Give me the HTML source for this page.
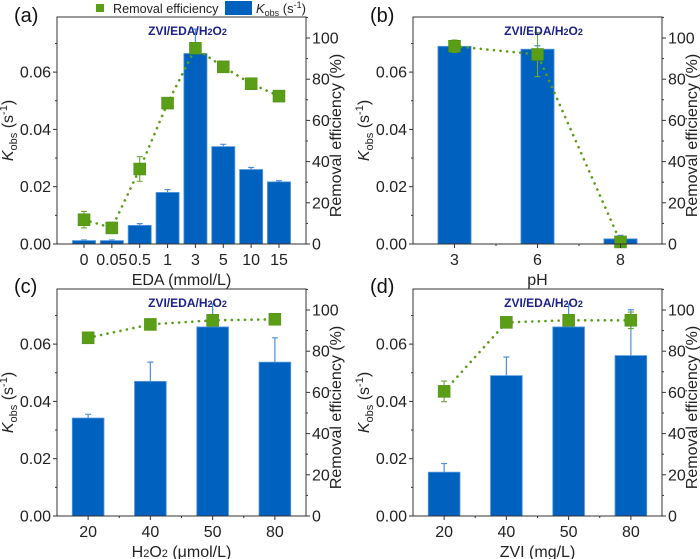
<!DOCTYPE html>
<html><head><meta charset="utf-8"><style>
body{margin:0;background:#fff;}
svg{display:block;font-family:"Liberation Sans",Arial,sans-serif;}
</style></head><body>
<svg id="fig" width="700" height="559" viewBox="0 0 700 559"></svg>
<script>
const catsA=["0","0.05","0.5","1","3","5","10","15"];
const kA=[0.0012,0.0012,0.0065,0.018,0.0665,0.034,0.026,0.0217];
const kErrA=[0.0002,0.0002,0.0006,0.001,0.0085,0.0008,0.0007,0.0004];
const reA=[11.8,7.8,36.4,68.4,95,86,77.8,71.8];
const reErrA=[4,1,6,1,1,0.5,0.5,0.5];
const catsB=["3","6","8"];
const kB=[0.069,0.068,0.0018];
const kErrB=[0.0015,0.0012,0.0012];
const reB=[96,92,1];
const reErrB=[3,10.7,2];
const catsC=["20","40","50","80"];
const kC=[0.0342,0.047,0.066,0.0537];
const kErrC=[0.0013,0.0067,0.008,0.0085];
const reC=[86.5,93,95,95.5];
const reErrC=[0.5,1.5,0.5,0.5];
const catsD=["20","40","50","80"];
const kD=[0.0153,0.049,0.066,0.056];
const kErrD=[0.003,0.0065,0.008,0.016];
const reD=[60.5,94,95,95];
const reErrD=[5,0.5,0.5,4];
const leftTicks=[0,0.02,0.04,0.06];
const rightTicks=[0,20,40,60,80,100];

const NS="http://www.w3.org/2000/svg";
const svg=document.getElementById('fig');
const BLUE="#0061bf",GREEN="#5a9e17";
function el(tag,attrs,parent,text){const e=document.createElementNS(NS,tag);for(const k in attrs)e.setAttribute(k,attrs[k]);if(text!==undefined)e.textContent=text;(parent||svg).appendChild(e);return e;}

function panel(o){
  const g=el('g',{});
  
  
  const x0=o.x0,x1=o.x1,yz=o.yz,yt=o.yz-227;
  const yL=v=>yz-v*2865;
  const yR=v=>yz-v*2.06;
  const n=o.cats.length;
  const sp=(x1-x0)/(n-1+2*o.pad);
  const xc=i=>x0+sp*(o.pad+i);
  const bw=sp*o.bw;
  o.k.forEach((v,i)=>{
    const r=el('rect',{x:xc(i)-bw/2,y:yL(v),width:bw,height:yz-yL(v),fill:BLUE,stroke:"#5b9be0","stroke-width":0.8},g);
    
    
    const ye=Math.max(yL(v+o.kErr[i]),yt);
    const e=el('path',{d:`M${xc(i)},${yL(v)}V${ye}M${xc(i)-3},${ye}H${xc(i)+3}`,stroke:"#4a90e2","stroke-width":1.2,fill:"none"},g);
    
    
  });
  let d=o.re.map((v,i)=>(i?'L':'M')+xc(i)+','+yR(v)).join('');
  const ln=el('path',{d:d,stroke:GREEN,"stroke-width":2.6,fill:"none","stroke-dasharray":"0.1 6.5","stroke-linecap":"round"},g);
  
  
  o.re.forEach((v,i)=>{
    const t=yR(v+o.reErr[i]),b=yR(v-o.reErr[i]);
    const e=el('path',{d:`M${xc(i)},${t}V${b}M${xc(i)-3},${t}H${xc(i)+3}M${xc(i)-3},${b}H${xc(i)+3}`,stroke:"#6aa83a","stroke-width":1.1,fill:"none"},g);
    
    
    const m=el('rect',{x:xc(i)-6,y:yR(v)-6,width:12,height:12,fill:GREEN,stroke:"#4d8a12","stroke-width":0.5},g);
    
    
  });
  const fr=el('rect',{x:x0,y:yt,width:x1-x0,height:yz-yt,fill:"none",stroke:"#333","stroke-width":1},g);
  
  
  leftTicks.forEach(v=>{
    el('line',{x1:x0-4,x2:x0,y1:yL(v),y2:yL(v),stroke:"#333"},g);
    const t=el('text',{x:x0-6,y:yL(v)+5.5,"text-anchor":"end","font-size":16,fill:"#222"},g,v.toFixed(2));
    
    
  });
  [0.01,0.03,0.05,0.07].forEach(v=>el('line',{x1:x0-2,x2:x0,y1:yL(v),y2:yL(v),stroke:"#333"},g));
  rightTicks.forEach(v=>{
    el('line',{x1:x1,x2:x1+4,y1:yR(v),y2:yR(v),stroke:"#333"},g);
    const t=el('text',{x:x1+6,y:yR(v)+5.5,"font-size":16,fill:"#222"},g,String(v));
    
    
  });
  [10,30,50,70,90,110].forEach(v=>{if(yR(v)>yt)el('line',{x1:x1,x2:x1+2,y1:yR(v),y2:yR(v),stroke:"#333"},g)});
  o.cats.forEach((c,i)=>{
    el('line',{x1:xc(i),x2:xc(i),y1:yz,y2:yz+4,stroke:"#333"},g);
    if(o.minor&&i<n-1)el('line',{x1:xc(i)+sp/2,x2:xc(i)+sp/2,y1:yz,y2:yz+2,stroke:"#333"},g);
    const t=el('text',{x:xc(i),y:yz+21,"text-anchor":"middle","font-size":16,fill:"#222"},g,c);
    
    
  });
  const xt=el('text',{x:(x0+x1)/2,y:yz+41,"text-anchor":"middle","font-size":16,fill:"#222"},g);
  xt.innerHTML=o.xtitle;
  
  
  const lt=el('text',{transform:`translate(${x0-44},${(yt+yz)/2}) rotate(-90)`,"text-anchor":"middle","font-size":16,fill:"#222"},g);
  lt.innerHTML='<tspan font-style="italic">K</tspan><tspan font-size="11" dy="4">obs</tspan><tspan dy="-4"> (s</tspan><tspan font-size="11" dy="-6">-1</tspan><tspan dy="6">)</tspan>';
  
  
  const rt=el('text',{transform:`translate(${x1+35},${(yt+yz)/2+5}) rotate(-90)`,"text-anchor":"middle","font-size":16,fill:"#222"},g,'Removal efficiency (%)');
  
  
  const it=el('text',{x:(x0+x1)/2+6,y:yt+18,"text-anchor":"middle","font-size":12,"font-weight":"bold",fill:"#1b1f8a"},g);
  it.innerHTML='ZVI/EDA/H<tspan font-size="9">2</tspan>O<tspan font-size="9">2</tspan>';
  
  
  const pl=el('text',{x:o.lx,y:o.ly,"font-size":20,fill:"#111"},g,'('+o.id+')');
  
  
}
panel({id:'a',x0:57,x1:306,yz:244,cats:catsA,k:kA,kErr:kErrA,re:reA,reErr:reErrA,pad:0.97,bw:0.83,xtitle:'EDA (mmol/L)',lx:14,ly:22});
panel({id:'b',x0:413,x1:662,yz:244,cats:catsB,k:kB,kErr:kErrB,re:reB,reErr:reErrB,pad:0.5,bw:0.4,minor:true,xtitle:'pH',lx:370,ly:22});
panel({id:'c',x0:57,x1:306,yz:516,cats:catsC,k:kC,kErr:kErrC,re:reC,reErr:reErrC,pad:0.5,bw:0.51,minor:true,xtitle:'H<tspan font-size="11">2</tspan>O<tspan font-size="11">2</tspan> (μmol/L)',lx:14,ly:293});
panel({id:'d',x0:413,x1:662,yz:516,cats:catsD,k:kD,kErr:kErrD,re:reD,reErr:reErrD,pad:0.5,bw:0.51,minor:true,xtitle:'ZVI (mg/L)',lx:370,ly:293});
const lg=el('g',{});


const l1=el('rect',{x:96,y:4,width:8,height:8,fill:GREEN},lg);


el('text',{x:113,y:13,"font-size":12.6,fill:"#222"},lg,'Removal efficiency');
const l2=el('rect',{x:225,y:1,width:27,height:14,fill:BLUE},lg);


const lt2=el('text',{x:256,y:13,"font-size":13,fill:"#222"},lg);
lt2.innerHTML='<tspan font-style="italic">K</tspan><tspan font-size="9" dy="3">obs</tspan><tspan dy="-3"> (s</tspan><tspan font-size="9" dy="-5">-1</tspan><tspan dy="5">)</tspan>';
</script>
</body></html>
